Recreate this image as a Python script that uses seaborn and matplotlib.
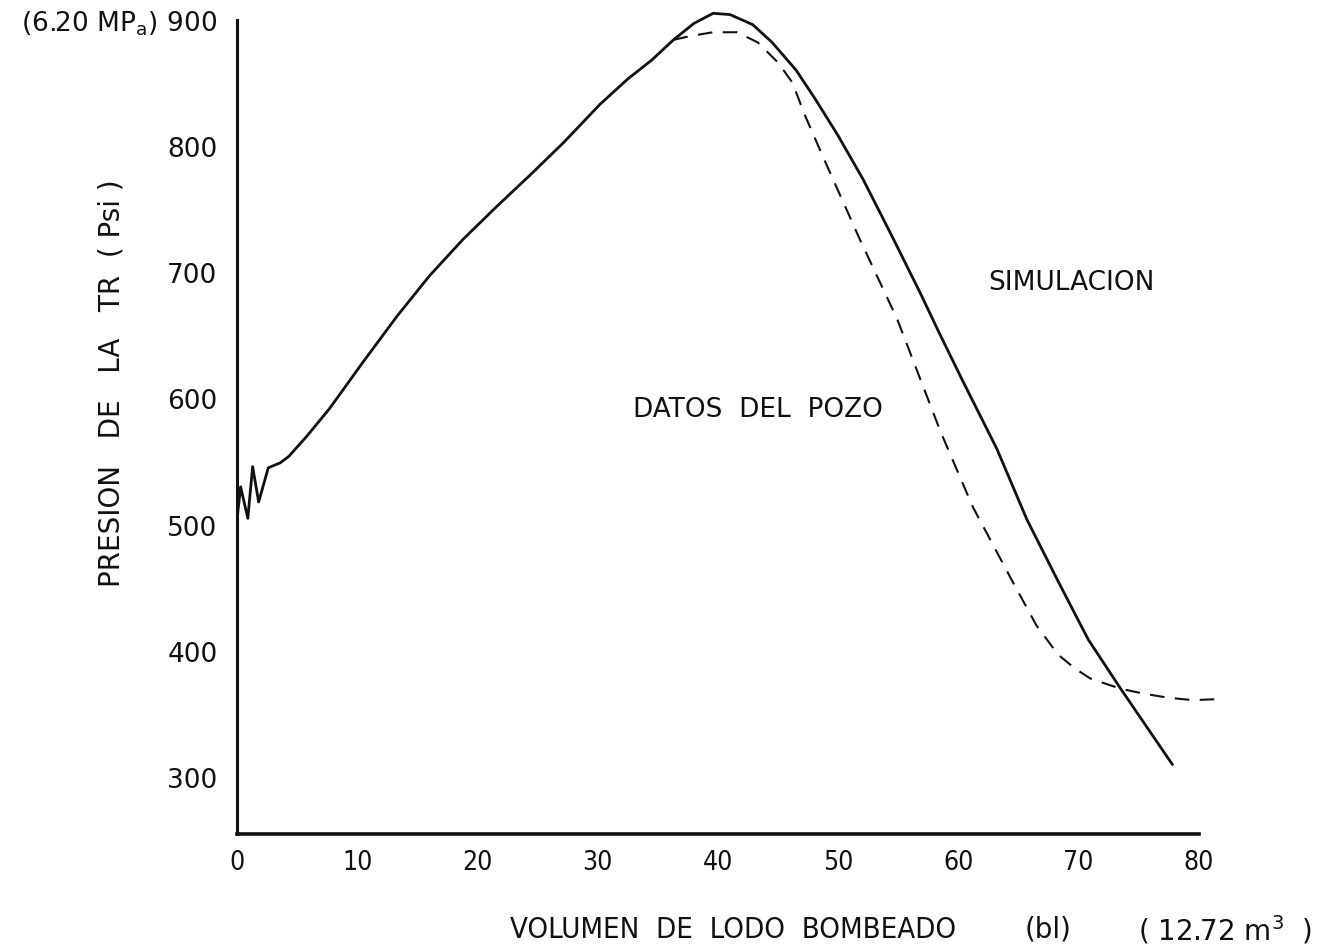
import numpy as np
import pandas as pd
import matplotlib
matplotlib.use("Agg")
import matplotlib.pyplot as plt
import seaborn as sns

# curva de simulacion (linea continua)
sim_vol = [0, 0, 0.3, 0.9, 1.3, 1.8, 2.6, 3.6, 4.3, 5.8, 7.7, 10.5, 13.3, 16.0,
           18.8, 21.6, 24.5, 27.2, 30.2, 32.5, 34.5, 36.3, 38.0, 39.6, 41.0,
           42.9, 44.5, 46.5, 48.1, 50.0, 52.1, 54.5, 56.8, 58.5, 60.3, 63.2,
           65.7, 68.3, 70.8, 73.5, 77.8]
sim_pres = [538, 504, 530, 505, 546, 518, 545, 549, 554, 570, 592, 629, 665, 697,
            726, 752, 778, 803, 833, 853, 868, 884, 897, 905, 904,
            896, 882, 860, 837, 808, 773, 728, 684, 650, 615, 560,
            504, 455, 409, 370, 310]

# datos del pozo (linea punteada)
pozo_vol = [36.3, 37.7, 39.6, 41.6, 43.3, 45.0, 46.2, 47.2, 48.8, 50.3, 51.8,
            54.9, 58.5, 61.2, 64.5, 66.5, 68.3, 69.7, 71.0, 73.5, 75.5, 77.4,
            79.5, 82.0]
pozo_pres = [884, 887, 890, 890, 882, 866, 850, 825, 790, 758, 726,
             663, 574, 514, 455, 420, 397, 386, 378, 370, 366, 363,
             361, 362]

x_ticks = [0, 10, 20, 30, 40, 50, 60, 70, 80]
y_ticks = [300, 400, 500, 600, 700, 800, 900]
y_labels = ["300", "400", "500", "600", "700", "800",
            r"(6.20 MP$_{\mathrm{a}}$) 900"]

df_sim = pd.DataFrame({"vol": sim_vol, "pres": sim_pres})
df_pozo = pd.DataFrame({"vol": pozo_vol, "pres": pozo_pres})

sns.set_theme(style="white")
plt.rcParams["font.family"] = ["DejaVu Sans"]

fig = plt.figure(figsize=(13.22, 9.53), dpi=100)
ax = fig.add_axes([237 / 1322, 1 - 835 / 953, (1259 - 237) / 1322, (835 - 8) / 953])

sns.lineplot(data=df_sim, x="vol", y="pres", ax=ax, color="#111111",
             linewidth=2.0, estimator=None, sort=False)
sns.lineplot(data=df_pozo, x="vol", y="pres", ax=ax, color="#111111",
             linewidth=1.5, estimator=None, sort=False,
             linestyle=(0, (7, 5)))

ax.set_xlim(0, 85)
ax.set_ylim(255, 910)
for s in ["top", "right"]:
    ax.spines[s].set_visible(False)
ax.spines["left"].set_bounds(255, 900)
ax.spines["bottom"].set_bounds(0, 80)
ax.spines["left"].set_linewidth(2.2)
ax.spines["bottom"].set_linewidth(2.6)
ax.spines["left"].set_color("#111111")
ax.spines["bottom"].set_color("#111111")

ax.set_xticks(x_ticks)
ax.set_xticklabels([str(v) for v in x_ticks], fontsize=19, fontstretch="condensed")
ax.set_yticks(y_ticks)
ax.set_yticklabels(y_labels, fontsize=19)
ax.tick_params(axis="both", direction="out", length=6, width=1.0, color="#333333",
               labelcolor="#111111")
ax.tick_params(axis="y", pad=8)
ax.tick_params(axis="x", pad=5)
ax.set_xlabel("")
ax.set_ylabel("")

ax.text(62.5, 692, "SIMULACION", fontsize=19, color="#111111", va="center")
ax.text(32.9, 592, "DATOS  DEL  POZO", fontsize=19, color="#111111", va="center")

fig.text(112 / 1322, 1 - 383 / 953, "PRESION   DE   LA   TR  ( Psi )", rotation=90,
         fontsize=20, color="#111111", ha="center", va="center")
fig.text(510 / 1322, 1 - 930 / 953, "VOLUMEN  DE  LODO  BOMBEADO", fontsize=21,
         fontstretch="condensed", color="#111111", ha="left", va="center")
fig.text(1025 / 1322, 1 - 930 / 953, "(bl)", fontsize=20,
         color="#111111", ha="left", va="center")
fig.text(1138 / 1322, 1 - 930 / 953, "( 12.72 m$^3$  )", fontsize=20,
         color="#111111", ha="left", va="center")

fig.savefig("out.png", dpi=100, facecolor="white")
